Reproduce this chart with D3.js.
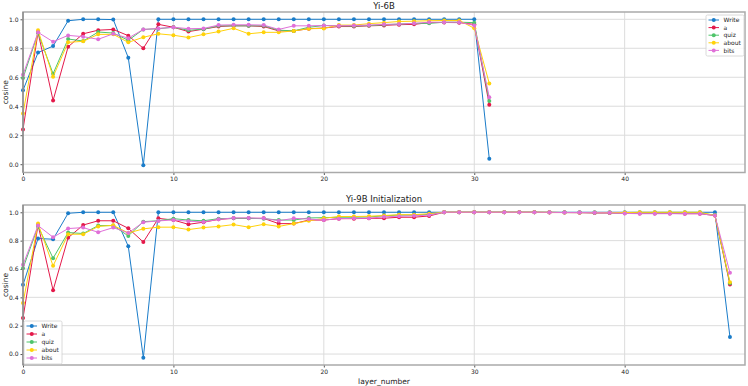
<!DOCTYPE html>
<html lang="en">
<head>
    <meta charset="UTF-8">
    <title>Yi-6B vs Yi-9B cosine per layer</title>
    <script src="https://cdn.jsdelivr.net/npm/d3@7/dist/d3.min.js"></script>
    <style>
        body{
            margin: 0;
            background-color: #fff;
        }
        text{
            font-family: "DejaVu Sans", sans-serif;
            fill: #222;
        }
    </style>
</head>
<body>
<script>

    // series names and colours
    const seriesNames = ["Write", "a", "quiz", "about", "bits"];
    const seriesColors = ["#1a7cc9", "#e4194a", "#4fc46a", "#ffd20a", "#e070d8"];

    // Yi-6B, layers 0..31
    const write6 = [0.51,0.77,0.815,0.99,1.0,1.0,0.998,0.735,-0.007,1.0,
        1.0,1.0,1.0,1.0,1.0,1.0,1.0,1.0,1.0,1.0,
        1.0,1.0,1.0,1.0,1.0,1.0,1.0,1.0,1.0,1.0,
        1.0,0.037];
    const a6 = [0.24,0.91,0.44,0.81,0.90,0.925,0.93,0.887,0.80,0.965,
        0.945,0.915,0.932,0.95,0.955,0.955,0.95,0.92,0.92,0.935,
        0.94,0.95,0.95,0.955,0.958,0.963,0.965,0.977,0.978,0.977,
        0.965,0.41];
    const quiz6 = [0.594,0.905,0.624,0.864,0.85,0.912,0.905,0.855,0.93,0.935,
        0.945,0.924,0.932,0.955,0.955,0.955,0.955,0.925,0.92,0.945,
        0.957,0.955,0.953,0.957,0.962,0.967,0.972,0.972,0.98,0.98,
        0.977,0.436];
    const about6 = [0.35,0.924,0.604,0.841,0.848,0.896,0.896,0.841,0.876,0.90,
        0.89,0.874,0.896,0.915,0.938,0.90,0.91,0.91,0.92,0.935,
        0.937,0.96,0.96,0.97,0.977,0.985,0.987,0.99,0.992,0.992,
        0.938,0.557];
    const bits6 = [0.617,0.91,0.845,0.889,0.88,0.862,0.9,0.87,0.93,0.937,
        0.945,0.935,0.937,0.96,0.962,0.962,0.96,0.93,0.955,0.955,
        0.957,0.955,0.957,0.96,0.965,0.967,0.972,0.98,0.98,0.98,
        0.958,0.462];

    // Yi-9B Initialization, layers 0..47
    const write9 = [0.488,0.815,0.81,0.993,1.0,1.0,1.0,0.76,-0.026,1.0,
        1.0,1.0,1.0,1.0,1.0,1.0,1.0,1.0,1.0,1.0,
        1.0,1.0,1.0,1.0,1.0,1.0,1.0,1.0,1.0,1.0,
        1.0,1.0,1.0,1.0,1.0,1.0,1.0,1.0,1.0,1.0,
        1.0,1.0,1.0,1.0,1.0,1.0,1.0,0.12];
    const a9 = [0.254,0.91,0.45,0.82,0.91,0.94,0.94,0.887,0.79,0.957,
        0.945,0.915,0.93,0.95,0.957,0.957,0.957,0.92,0.92,0.945,
        0.945,0.955,0.955,0.957,0.958,0.965,0.965,0.974,1.0,1.0,
        1.0,1.0,1.0,1.0,1.0,0.998,0.998,0.997,0.995,0.995,
        0.993,0.992,0.992,0.992,0.99,0.99,0.977,0.49];
    const quiz9 = [0.605,0.9,0.676,0.857,0.85,0.906,0.906,0.833,0.934,0.94,
        0.955,0.945,0.94,0.955,0.957,0.957,0.955,0.945,0.945,0.96,
        0.962,0.965,0.965,0.967,0.975,0.98,0.98,0.985,1.0,1.0,
        1.0,1.0,1.0,1.0,1.0,1.0,0.998,0.998,0.997,0.997,
        0.995,0.995,0.995,0.995,0.995,0.995,0.98,0.5];
    const about9 = [0.36,0.92,0.622,0.845,0.845,0.9,0.908,0.854,0.883,0.895,
        0.895,0.878,0.892,0.9,0.913,0.895,0.915,0.9,0.92,0.94,
        0.957,0.97,0.97,0.972,0.977,0.983,0.983,0.99,1.0,1.0,
        1.0,1.0,1.0,1.0,1.0,1.0,0.998,0.998,0.998,0.998,
        0.998,1.0,1.0,1.0,1.0,1.0,0.977,0.507];
    const bits9 = [0.629,0.906,0.824,0.885,0.892,0.859,0.892,0.854,0.93,0.939,
        0.946,0.937,0.932,0.95,0.96,0.96,0.957,0.94,0.957,0.952,
        0.945,0.955,0.957,0.958,0.968,0.972,0.975,0.98,1.0,1.0,
        1.0,1.0,1.0,1.0,1.0,1.0,0.998,0.998,0.997,0.996,
        0.992,0.99,0.99,0.99,0.99,0.99,0.977,0.573];

    // axis ticks
    const xTicks = [0, 10, 20, 30, 40];
    const yTicks = [0.0, 0.2, 0.4, 0.6, 0.8, 1.0];
    const xMax = 48;

    const width = 748;
    const height = 386;

    const svg = d3.select("body")
        .append("svg")
        .attr("width", width)
        .attr("height", height);

    function drawPanel(cfg) {
        const g = svg.append("g");
        const left = 23, right = 745;
        const top = cfg.top, bottom = cfg.bottom;

        // matplotlib style autoscale with 5% margin
        const all = cfg.series.flat();
        const lo = d3.min(all), hi = d3.max(all);
        const pad = (hi - lo) * 0.05;

        const x = d3.scaleLinear().domain([0, xMax]).range([left, right]);
        const y = d3.scaleLinear().domain([lo - pad, hi + pad]).range([bottom, top]);

        // grid
        g.selectAll("line.gy")
            .data(yTicks)
            .enter()
            .append("line")
            .attr("x1", left).attr("x2", right)
            .attr("y1", d => y(d)).attr("y2", d => y(d))
            .attr("stroke", "#dcdcdc")
            .attr("stroke-width", 1);
        g.selectAll("line.gx")
            .data(xTicks.filter(d => d > 0))
            .enter()
            .append("line")
            .attr("x1", d => x(d)).attr("x2", d => x(d))
            .attr("y1", top).attr("y2", bottom)
            .attr("stroke", "#dcdcdc")
            .attr("stroke-width", 1);

        // axes (ticks + labels)
        const xAxis = g.append("g")
            .attr("transform", `translate(0,${bottom})`)
            .call(d3.axisBottom(x).tickValues(xTicks).tickSize(2.5).tickPadding(2).tickFormat(d3.format("d")));
        const yAxis = g.append("g")
            .attr("transform", `translate(${left},0)`)
            .call(d3.axisLeft(y).tickValues(yTicks).tickSize(2.5).tickPadding(2).tickFormat(d3.format(".1f")));
        [xAxis, yAxis].forEach(a => {
            a.select(".domain").remove();
            a.selectAll("line").attr("stroke", "#555");
            a.selectAll("text")
                .style("font-family", "DejaVu Sans")
                .style("font-size", "6px")
                .attr("fill", "#333");
        });

        // lines and points
        const line = d3.line()
            .x((d, i) => x(i))
            .y(d => y(d));

        cfg.series.forEach((vals, k) => {
            g.append("path")
                .datum(vals)
                .attr("d", line)
                .attr("fill", "none")
                .attr("stroke", seriesColors[k])
                .attr("stroke-width", 1);
            g.selectAll(null)
                .data(vals)
                .enter()
                .append("circle")
                .attr("cx", (d, i) => x(i))
                .attr("cy", d => y(d))
                .attr("r", 2)
                .attr("fill", seriesColors[k]);
        });

        // frame
        g.append("rect")
            .attr("x", left).attr("y", top)
            .attr("width", right - left).attr("height", bottom - top)
            .attr("fill", "none")
            .attr("stroke", "#aaaaaa")
            .attr("stroke-width", 1.5);
        g.append("line")
            .attr("x1", left).attr("x2", left)
            .attr("y1", top).attr("y2", bottom)
            .attr("stroke", "#777")
            .attr("stroke-width", 1);

        // title
        g.append("text")
            .attr("x", (left + right) / 2)
            .attr("y", top - 3)
            .attr("text-anchor", "middle")
            .style("font-size", "8.5px")
            .text(cfg.title);

        // y label
        g.append("text")
            .attr("transform", `translate(8,${(top + bottom) / 2}) rotate(-90)`)
            .attr("text-anchor", "middle")
            .style("font-size", "7.5px")
            .text("cosine");

        // legend
        const L = cfg.legend;
        const lg = g.append("g").attr("transform", `translate(${L.x},${L.y})`);
        lg.append("rect")
            .attr("width", L.w)
            .attr("height", L.step * seriesNames.length + 3)
            .attr("rx", 1.5)
            .attr("fill", "#fff")
            .attr("fill-opacity", 0.85)
            .attr("stroke", "#d0d0d0")
            .attr("stroke-width", 0.8);
        seriesNames.forEach((name, k) => {
            const yy = 5 + k * L.step;
            lg.append("line")
                .attr("x1", 2.5).attr("x2", 13)
                .attr("y1", yy).attr("y2", yy)
                .attr("stroke", seriesColors[k])
                .attr("stroke-width", 1);
            lg.append("circle")
                .attr("cx", 7.75).attr("cy", yy)
                .attr("r", 2)
                .attr("fill", seriesColors[k]);
            lg.append("text")
                .attr("x", 17.5)
                .attr("y", yy + 2.1)
                .style("font-size", "6px")
                .text(name);
        });
    }

    drawPanel({
        title: "Yi-6B",
        top: 12, bottom: 172.5,
        series: [write6, a6, quiz6, about6, bits6],
        legend: {x: 706, y: 15, w: 38, step: 7.6}
    });

    drawPanel({
        title: "Yi-9B Initialization",
        top: 205, bottom: 365,
        series: [write9, a9, quiz9, about9, bits9],
        legend: {x: 24, y: 321, w: 38, step: 8}
    });

    // shared x label
    svg.append("text")
        .attr("x", 384)
        .attr("y", 384)
        .attr("text-anchor", "middle")
        .style("font-size", "7.5px")
        .text("layer_number");
</script>
</body>
</html>
